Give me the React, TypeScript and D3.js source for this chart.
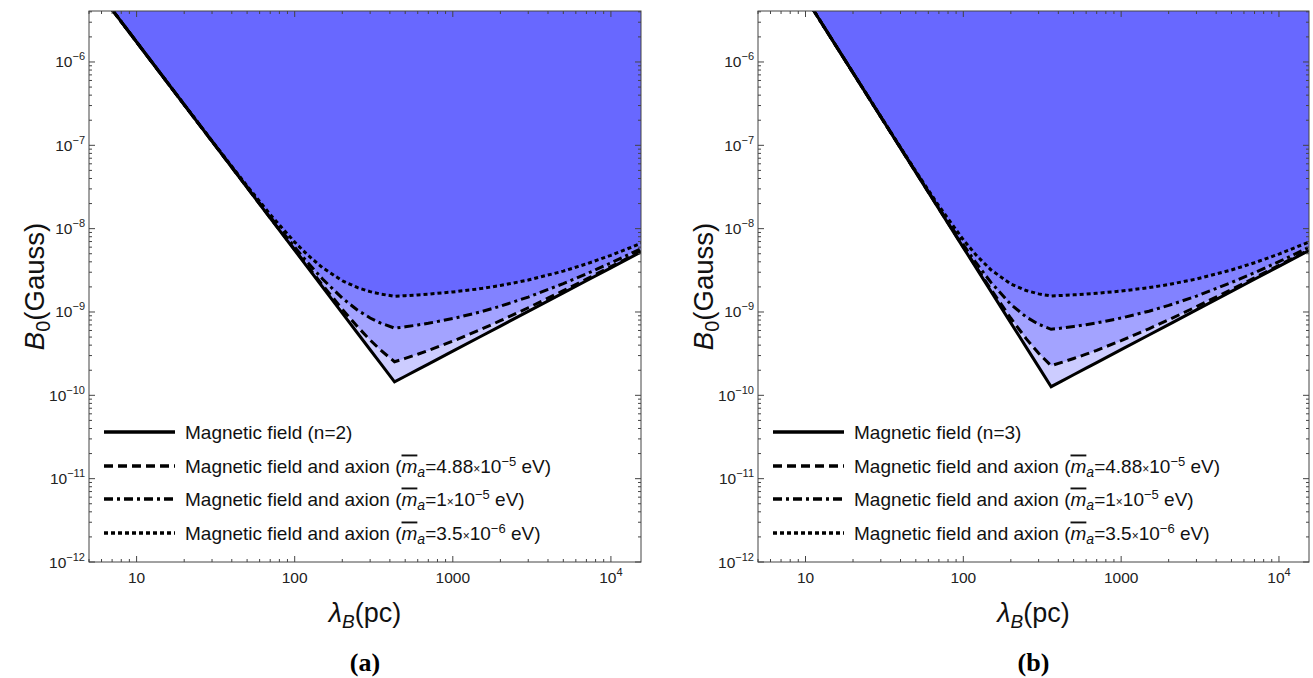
import React from "react";
import * as d3 from "d3";

// ---------- data ----------
const lambdaA = [7, 10, 20, 30, 50, 70, 100, 120, 150, 200, 250, 300, 350, 428, 500, 600, 700, 1000, 1500, 2000, 3000, 5000, 7000, 10000, 15500];
const solidA = [4.24e-6, 1.738e-6, 3.07e-7, 1.115e-7, 3.109e-8, 1.34e-8, 5.495e-9, 3.484e-9, 1.994e-9, 9.714e-10, 5.561e-10, 3.525e-10, 2.398e-10, 1.45e-10, 1.694e-10, 2.033e-10, 2.3715e-10, 3.388e-10, 5.082e-10, 6.776e-10, 1.0164e-9, 1.694e-9, 2.3715e-9, 3.388e-9, 5.251e-9];
const dashedA = [4.24e-6, 1.738e-6, 3.07e-7, 1.115e-7, 3.12e-8, 1.351e-8, 5.603e-9, 3.592e-9, 2.102e-9, 1.079e-9, 6.641e-10, 4.605e-10, 3.478e-10, 2.53e-10, 2.774e-10, 3.113e-10, 3.452e-10, 4.468e-10, 6.162e-10, 7.856e-10, 1.124e-9, 1.802e-9, 2.48e-9, 3.496e-9, 5.359e-9];
const dashDotA = [4.24e-6, 1.739e-6, 3.075e-7, 1.12e-7, 3.159e-8, 1.39e-8, 5.99e-9, 3.979e-9, 2.489e-9, 1.466e-9, 1.051e-9, 8.475e-10, 7.348e-10, 6.4e-10, 6.644e-10, 6.983e-10, 7.322e-10, 8.338e-10, 1.003e-9, 1.173e-9, 1.511e-9, 2.189e-9, 2.867e-9, 3.883e-9, 5.746e-9];
const dottedA = [4.24e-6, 1.739e-6, 3.084e-7, 1.129e-7, 3.249e-8, 1.48e-8, 6.895e-9, 4.884e-9, 3.394e-9, 2.371e-9, 1.956e-9, 1.753e-9, 1.64e-9, 1.545e-9, 1.569e-9, 1.603e-9, 1.637e-9, 1.739e-9, 1.908e-9, 2.078e-9, 2.416e-9, 3.094e-9, 3.772e-9, 4.788e-9, 6.651e-9];

const lambdaB = [11, 15, 20, 30, 50, 70, 100, 120, 150, 200, 250, 300, 360, 420, 500, 600, 700, 1000, 1500, 2000, 3000, 5000, 7000, 10000, 15500];
const solidB = [4.452e-6, 1.756e-6, 7.407e-7, 2.195e-7, 4.74e-8, 1.7276e-8, 5.925e-9, 3.429e-9, 1.756e-9, 7.407e-10, 3.792e-10, 2.195e-10, 1.27e-10, 1.4817e-10, 1.7639e-10, 2.1167e-10, 2.4694e-10, 3.5278e-10, 5.2917e-10, 7.0556e-10, 1.0583e-9, 1.7639e-9, 2.4694e-9, 3.5278e-9, 5.4681e-9];
const dashedB = [4.452e-6, 1.756e-6, 7.408e-7, 2.196e-7, 4.75e-8, 1.7376e-8, 6.025e-9, 3.529e-9, 1.856e-9, 8.407e-10, 4.792e-10, 3.195e-10, 2.27e-10, 2.482e-10, 2.764e-10, 3.117e-10, 3.469e-10, 4.528e-10, 6.292e-10, 8.056e-10, 1.158e-9, 1.864e-9, 2.569e-9, 3.628e-9, 5.568e-9];
const dashDotB = [4.452e-6, 1.757e-6, 7.412e-7, 2.2e-7, 4.789e-8, 1.7769e-8, 6.418e-9, 3.922e-9, 2.249e-9, 1.234e-9, 8.722e-10, 7.125e-10, 6.2e-10, 6.412e-10, 6.694e-10, 7.047e-10, 7.399e-10, 8.458e-10, 1.022e-9, 1.199e-9, 1.551e-9, 2.257e-9, 2.962e-9, 4.021e-9, 5.961e-9];
const dottedB = [4.453e-6, 1.757e-6, 7.421e-7, 2.209e-7, 4.883e-8, 1.8706e-8, 7.355e-9, 4.859e-9, 3.186e-9, 2.171e-9, 1.809e-9, 1.65e-9, 1.557e-9, 1.578e-9, 1.606e-9, 1.642e-9, 1.677e-9, 1.783e-9, 1.959e-9, 2.136e-9, 2.488e-9, 3.194e-9, 3.899e-9, 4.958e-9, 6.898e-9];

const xDomain: [number, number] = [5, 15500];
const yDomain: [number, number] = [1e-12, 4.09e-6];
const xTickLabels = [
  { v: 10, base: "10", sup: "" },
  { v: 100, base: "100", sup: "" },
  { v: 1000, base: "1000", sup: "" },
  { v: 10000, base: "10", sup: "4" },
];
const yTickExps = [-12, -11, -10, -9, -8, -7, -6];
const legendMasses = ["4.88", "1", "3.5"];
const legendExps = ["−5", "−5", "−6"];

const FONT = "'Liberation Sans', Arial, Helvetica, sans-serif";
const FRAME = "#444";

const styles = [
  { dash: "none" },
  { dash: "9,5" },
  { dash: "9,4,3,4" },
  { dash: "4,3" },
];

type PanelProps = {
  id: string;
  x0: number;
  x1: number;
  lambdas: number[];
  series: number[][];
  n: number;
  caption: string;
};

function Panel({ id, x0, x1, lambdas, series, n, caption }: PanelProps) {
  const y0 = 11;
  const y1 = 562;
  const xs = d3.scaleLog().domain(xDomain).range([x0, x1]);
  const ys = d3.scaleLog().domain(yDomain).range([y1, y0]);

  const pts = (vals: number[]) => lambdas.map((l, i) => [xs(l), ys(vals[i])] as [number, number]);
  const line = d3.line<[number, number]>().x((d) => d[0]).y((d) => d[1]).curve(d3.curveLinear);
  const area = d3
    .area<[number, number]>()
    .x((d) => d[0])
    .y0(y0 - 5)
    .y1((d) => d[1])
    .curve(d3.curveLinear);

  const xt = xs.ticks();
  const yt = ys.ticks();
  const isPow = (v: number) => Math.abs(Math.log10(v) - Math.round(Math.log10(v))) < 1e-6;

  const cx = (x0 + x1) / 2;
  const cy = (y0 + y1) / 2;
  const legendY = [432, 466, 499, 533];

  return (
    <g>
      <defs>
        <clipPath id={id}>
          <rect x={x0} y={y0} width={x1 - x0} height={y1 - y0} />
        </clipPath>
      </defs>
      <g clipPath={`url(#${id})`}>
        {series.map((s, i) => (
          <path key={"a" + i} d={area(pts(s)) || ""} fill="#0000ff" fillOpacity={0.2} stroke="none" />
        ))}
        {series.map((s, i) => (
          <path
            key={"l" + i}
            d={line(pts(s)) || ""}
            fill="none"
            stroke="#000"
            strokeWidth={3}
            strokeDasharray={styles[i].dash}
          />
        ))}
      </g>
      {/* frame */}
      <rect x={x0} y={y0} width={x1 - x0} height={y1 - y0} fill="none" stroke={FRAME} strokeWidth={1} />
      {/* x ticks */}
      {xt.map((v, i) => {
        const x = xs(v);
        const L = isPow(v) ? 6 : 3;
        return (
          <g key={"xt" + i}>
            <line x1={x} x2={x} y1={y1} y2={y1 - L} stroke={FRAME} strokeWidth={1} />
            <line x1={x} x2={x} y1={y0} y2={y0 + L} stroke={FRAME} strokeWidth={1} />
          </g>
        );
      })}
      {yt.map((v, i) => {
        const y = ys(v);
        const L = isPow(v) ? 6 : 3;
        return (
          <g key={"yt" + i}>
            <line x1={x0} x2={x0 + L} y1={y} y2={y} stroke={FRAME} strokeWidth={1} />
            <line x1={x1} x2={x1 - L} y1={y} y2={y} stroke={FRAME} strokeWidth={1} />
          </g>
        );
      })}
      {/* x tick labels */}
      {xTickLabels.map((t, i) => (
        <text key={"xl" + i} x={xs(t.v)} y={583} textAnchor="middle" fontFamily={FONT} fontSize={15.5} fill="#222">
          {t.base}
          {t.sup && (
            <tspan dy={-7} fontSize={11}>
              {t.sup}
            </tspan>
          )}
        </text>
      ))}
      {/* y tick labels */}
      {yTickExps.map((e, i) => (
        <text key={"yl" + i} x={x0 - 4} y={ys(Math.pow(10, e)) + 5.5} textAnchor="end" fontFamily={FONT} fontSize={15.5} fill="#222">
          10
          <tspan dy={-7} fontSize={11}>
            {"−" + Math.abs(e)}
          </tspan>
        </text>
      ))}
      {/* axis titles */}
      <text
        transform={`translate(${x0 - 45},${cy}) rotate(-90)`}
        textAnchor="middle"
        fontFamily={FONT}
        fontSize={27.5}
        fill="#111"
      >
        <tspan fontStyle="italic">B</tspan>
        <tspan dy={6} fontSize={20}>0</tspan>
        <tspan dy={-6}>(Gauss)</tspan>
      </text>
      <text x={cx} y={622} textAnchor="middle" fontFamily={FONT} fontSize={27} fill="#111">
        <tspan fontStyle="italic">λ</tspan>
        <tspan dy={6} fontSize={19} fontStyle="italic">B</tspan>
        <tspan dy={-6}>(pc)</tspan>
      </text>
      <text x={cx} y={671} textAnchor="middle" fontFamily="'Liberation Serif', 'Times New Roman', serif" fontWeight="bold" fontSize={26} fill="#000">
        {caption}
      </text>
      {/* legend */}
      {legendY.map((ly, i) => (
        <g key={"lg" + i}>
          <line x1={x0 + 15} x2={x0 + 86} y1={ly} y2={ly} stroke="#000" strokeWidth={3.5} strokeDasharray={styles[i].dash} />
          {i === 0 ? (
            <text x={x0 + 96} y={ly + 6.5} fontFamily={FONT} fontSize={19} fill="#111">
              {`Magnetic field (n=${n})`}
            </text>
          ) : (
            <text x={x0 + 96} y={ly + 6.5} fontFamily={FONT} fontSize={19} fill="#111">
              Magnetic field and axion (
              <tspan fontStyle="italic" style={{ textDecoration: "overline" }}>m</tspan>
              <tspan dy={4} fontSize={14} fontStyle="italic">a</tspan>
              <tspan dy={-4}>{"=" + legendMasses[i - 1]}</tspan>
              <tspan fontSize={12}>×</tspan>
              <tspan>10</tspan>
              <tspan dy={-7} fontSize={13}>{legendExps[i - 1]}</tspan>
              <tspan dy={7}> eV)</tspan>
            </text>
          )}
        </g>
      ))}
    </g>
  );
}

export default function App() {
  return (
    <svg
      width={1313}
      height={678}
      style={{ position: "absolute", left: 0, top: 0, background: "#fff" }}
      xmlns="http://www.w3.org/2000/svg"
    >
      <rect x={0} y={0} width={1313} height={678} fill="#fff" />
      <Panel id="clipA" x0={89} x1={641} lambdas={lambdaA} series={[solidA, dashedA, dashDotA, dottedA]} n={2} caption="(a)" />
      <Panel id="clipB" x0={758} x1={1309} lambdas={lambdaB} series={[solidB, dashedB, dashDotB, dottedB]} n={3} caption="(b)" />
    </svg>
  );
}
